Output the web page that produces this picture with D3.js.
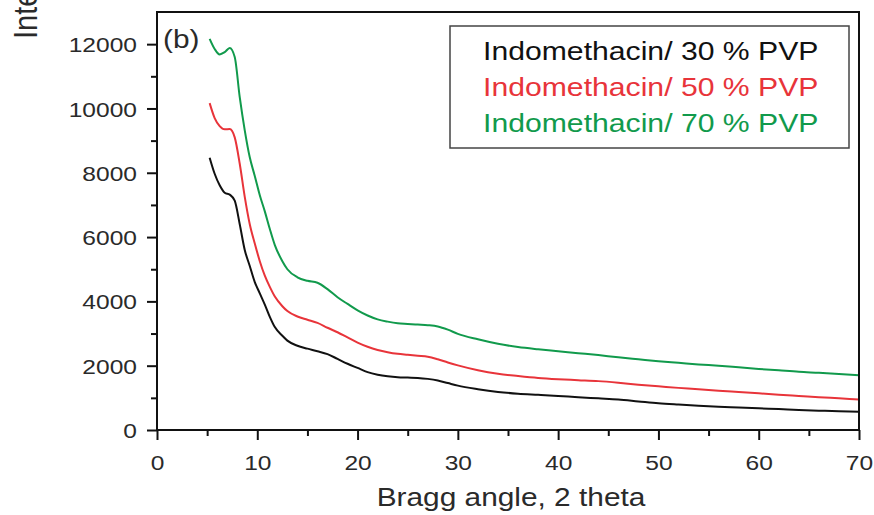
<!DOCTYPE html>
<html>
<head>
<meta charset="utf-8">
<script src="https://cdn.jsdelivr.net/npm/d3@7"></script>
<style>
  html, body { margin: 0; padding: 0; background: #fff; }
  svg { display: block; font-family: "Liberation Sans", Arial, sans-serif; }
</style>
</head>
<body>
<svg id="chart" width="874" height="515"></svg>
<script>
// ---- data ----
const angles = [5.25, 5.75, 6.25, 6.75, 7.25, 7.75, 8.25, 8.75, 9.25, 9.75, 10.25, 10.75, 11.25, 11.75, 12.5, 13, 14, 15, 16, 17, 18, 19, 20, 21, 22, 23, 24, 25, 26, 27, 28, 29, 30, 32, 34, 36, 38, 40, 42, 44, 46, 48, 50, 52, 54, 56, 58, 60, 62, 64, 66, 68, 70];
const pvp30 = [8470, 7970, 7610, 7380, 7320, 7130, 6400, 5600, 5100, 4600, 4250, 3900, 3520, 3200, 2930, 2780, 2620, 2530, 2450, 2360, 2210, 2060, 1930, 1800, 1720, 1670, 1640, 1630, 1620, 1590, 1540, 1460, 1380, 1270, 1185, 1130, 1095, 1060, 1020, 985, 950, 890, 830, 790, 755, 725, 700, 675, 650, 620, 600, 585, 570];
const pvp50 = [10165, 9700, 9450, 9350, 9360, 9100, 8280, 7250, 6400, 5800, 5250, 4800, 4450, 4150, 3850, 3700, 3530, 3430, 3330, 3180, 3040, 2880, 2720, 2590, 2490, 2420, 2370, 2340, 2310, 2280, 2200, 2100, 2010, 1860, 1750, 1680, 1620, 1580, 1550, 1520, 1470, 1410, 1360, 1310, 1270, 1220, 1180, 1140, 1100, 1060, 1020, 985, 950];
const pvp70 = [12165, 11850, 11680, 11750, 11880, 11600, 10350, 9320, 8480, 7900, 7300, 6800, 6250, 5750, 5250, 5000, 4750, 4640, 4580, 4380, 4130, 3920, 3720, 3560, 3440, 3370, 3320, 3300, 3280, 3260, 3220, 3120, 2990, 2820, 2680, 2580, 2510, 2450, 2390, 2330, 2260, 2200, 2140, 2090, 2040, 2000, 1950, 1900, 1855, 1810, 1780, 1745, 1705];
const seriesNames = ["Indomethacin/ 30 % PVP", "Indomethacin/ 50 % PVP", "Indomethacin/ 70 % PVP"];
const seriesColors = ["#111111", "#e8343a", "#119a4c"];
const xTicks = [0, 10, 20, 30, 40, 50, 60, 70];
const xMinor = [5, 15, 25, 35, 45, 55, 65];
const yTicks = [0, 2000, 4000, 6000, 8000, 10000, 12000];
const yMinor = [1000, 3000, 5000, 7000, 9000, 11000];
const xTitle = "Bragg angle, 2 theta";
const yTitle = "Intensity (a.u.)";
const panelLabel = "(b)";

// ---- layout ----
const SX = 1.17; // horizontal stretch of the original figure
const L = 157, R = 859, T = 12, B = 430;
const svg = d3.select("#chart");
const x = d3.scaleLinear().domain([0, 70]).range([L, R]);
const y = d3.scaleLinear().domain([0, 13000]).range([B, T]);

// lines
const allSeries = [pvp30, pvp50, pvp70];
const line = d3.line()
  .x(d => x(d[0])).y(d => y(d[1]))
  .curve(d3.curveMonotoneX);
allSeries.forEach((vals, i) => {
  svg.append("path")
    .datum(angles.map((a, j) => [a, vals[j]]))
    .attr("fill", "none")
    .attr("stroke", seriesColors[i])
    .attr("stroke-width", 2)
    .attr("stroke-linejoin", "round")
    .attr("d", line);
});

// frame
svg.append("rect")
  .attr("x", L).attr("y", T).attr("width", R - L).attr("height", B - T)
  .attr("fill", "none").attr("stroke", "#111").attr("stroke-width", 2);

// x axis
const gx = svg.append("g").attr("transform", `translate(0,${B})`)
  .call(d3.axisBottom(x).tickValues(xTicks).tickSize(10).tickSizeOuter(0));
gx.select(".domain").remove();
gx.selectAll("line").attr("stroke", "#111").attr("stroke-width", 2);
gx.selectAll("text")
  .attr("y", 40).attr("dy", 0)
  .attr("transform", `scale(${SX},1)`)
  .attr("fill", "#2a2a2a")
  .style("font-size", "21px").style("font-family", "Liberation Sans, Arial, sans-serif");
const gxm = svg.append("g").attr("transform", `translate(0,${B})`)
  .call(d3.axisBottom(x).tickValues(xMinor).tickSize(6).tickSizeOuter(0).tickFormat(""));
gxm.select(".domain").remove();
gxm.selectAll("line").attr("stroke", "#111").attr("stroke-width", 2);

// y axis
const gy = svg.append("g").attr("transform", `translate(${L},0)`)
  .call(d3.axisLeft(y).tickValues(yTicks).tickSize(10).tickSizeOuter(0).tickFormat(d3.format("d")));
gy.select(".domain").remove();
gy.selectAll("line").attr("stroke", "#111").attr("stroke-width", 2);
gy.selectAll("text")
  .attr("x", -20 / SX).attr("dy", "0.36em")
  .attr("transform", `scale(${SX},1)`)
  .attr("fill", "#2a2a2a")
  .style("font-size", "21px").style("font-family", "Liberation Sans, Arial, sans-serif");
const gym = svg.append("g").attr("transform", `translate(${L},0)`)
  .call(d3.axisLeft(y).tickValues(yMinor).tickSize(6).tickSizeOuter(0).tickFormat(""));
gym.select(".domain").remove();
gym.selectAll("line").attr("stroke", "#111").attr("stroke-width", 2);

// stretched text helper
function stext(px, py, str, size, color, anchor, rot) {
  return svg.append("text")
    .attr("transform", `translate(${px},${py}) scale(${SX},1)` + (rot ? ` rotate(${rot})` : ""))
    .attr("text-anchor", anchor || "start")
    .attr("fill", color)
    .style("font-size", size + "px")
    .text(str);
}

// titles
stext((L + R) / 2 + 3, 506, xTitle, 25.5, "#2a2a2a", "middle");
stext(37, 39, yTitle, 29, "#2a2a2a", "start", -90);
stext(163, 48, panelLabel, 25.5, "#2a2a2a", "start");

// legend
svg.append("rect")
  .attr("x", 450).attr("y", 26).attr("width", 399).attr("height", 122)
  .attr("fill", "#fff").attr("stroke", "#444").attr("stroke-width", 1.5);
seriesNames.forEach((n, i) => {
  stext(483, 60 + i * 36, n, 25.8, seriesColors[i], "start");
});
</script>
</body>
</html>
